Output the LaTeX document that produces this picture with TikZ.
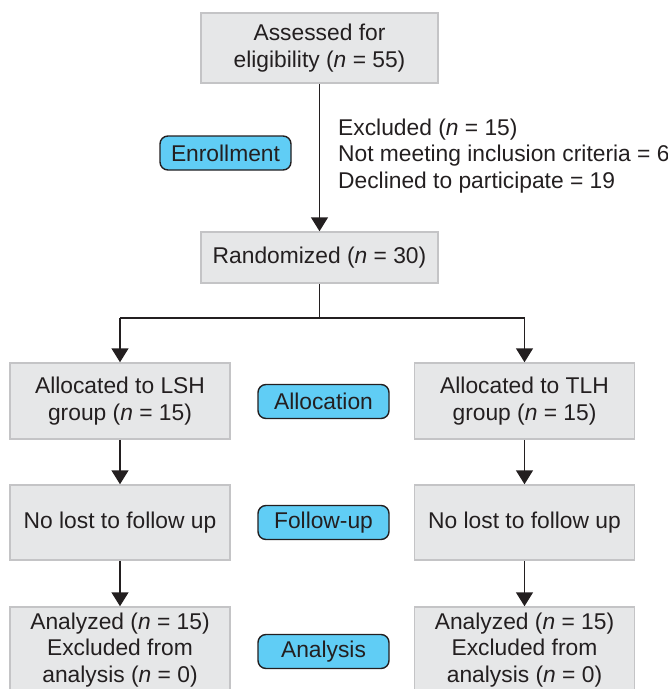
\documentclass[tikz,border=0pt]{standalone}
\usepackage{fontspec}
\setmainfont{Liberation Sans}
\usetikzlibrary{arrows.meta}
\definecolor{boxfill}{RGB}{230,231,232}
\definecolor{boxline}{RGB}{196,196,198}
\definecolor{bubfill}{RGB}{96,205,245}
\definecolor{ink}{RGB}{35,31,32}
\tikzset{
  txt/.style={text=ink, font=\fontsize{22.8}{26.5}\selectfont},
  flowbox/.style={txt, draw=boxline, fill=boxfill, line width=1.5pt, align=center, inner sep=0pt},
  bubble/.style={txt, draw=ink, fill=bubfill, line width=1.4pt, rounded corners=8pt, inner sep=0pt,
    minimum width=131pt, minimum height=34pt},
  arr/.style={draw=ink, line width=1.5pt, -{Triangle[length=14pt,width=17pt]}},
  ln/.style={draw=ink, line width=1.5pt}
}
\begin{document}
\begin{tikzpicture}[x=1pt,y=-1pt]
\clip (0,0) rectangle (668,689);
\useasboundingbox (0,0) rectangle (668,689);
% top
\node[flowbox, minimum width=237pt, minimum height=70pt] (assess) at (319.5,48) {Assessed for\\eligibility (\textit{n} = 55)};
\node[flowbox, minimum width=237pt, minimum height=51pt] (rand) at (319.5,257.5) {Randomized (\textit{n} = 30)};
\node[txt, anchor=west, align=left, inner sep=0pt] (excl) at (338,156)
  {Excluded (\textit{n} = 15)\\Not meeting inclusion criteria = 6\\Declined to participate = 19};
\node[bubble] (enroll) at (225.5,153) {Enrollment};
\draw[arr] (assess.south) -- (rand.north);
% split
\coordinate (split) at (319.5,318);
\coordinate (sl) at (120,318);
\coordinate (sr) at (524.5,318);
\draw[ln] (rand.south) -- (split);
\draw[ln] (sl) -- (sr);
% rows
\node[flowbox, minimum width=220pt, minimum height=76pt] (allocL) at (120,401) {Allocated to LSH\\group (\textit{n} = 15)};
\node[flowbox, minimum width=220pt, minimum height=76pt] (allocR) at (524.5,401) {Allocated to TLH\\group (\textit{n} = 15)};
\node[flowbox, minimum width=220pt, minimum height=75pt] (follL) at (120,522.5) {No lost to follow up};
\node[flowbox, minimum width=220pt, minimum height=75pt] (follR) at (524.5,522.5) {No lost to follow up};
\node[flowbox, minimum width=220pt, minimum height=86pt] (anaL) at (120,650) {Analyzed (\textit{n} = 15)\\Excluded from\\analysis (\textit{n} = 0)};
\node[flowbox, minimum width=220pt, minimum height=86pt] (anaR) at (524.5,650) {Analyzed (\textit{n} = 15)\\Excluded from\\analysis (\textit{n} = 0)};
\node[bubble] (allocation) at (323.5,401.5) {Allocation};
\node[bubble] (followup) at (323.5,522.5) {Follow-up};
\node[bubble] (analysis) at (323.5,651.5) {Analysis};
% arrows
\draw[arr] (sl) -- (allocL.north);
\draw[arr] (sr) -- (allocR.north);
\draw[arr] (allocL.south) -- (follL.north);
\draw[arr] (allocR.south) -- (follR.north);
\draw[arr] (follL.south) -- (anaL.north);
\draw[arr] (follR.south) -- (anaR.north);
\end{tikzpicture}
\end{document}
